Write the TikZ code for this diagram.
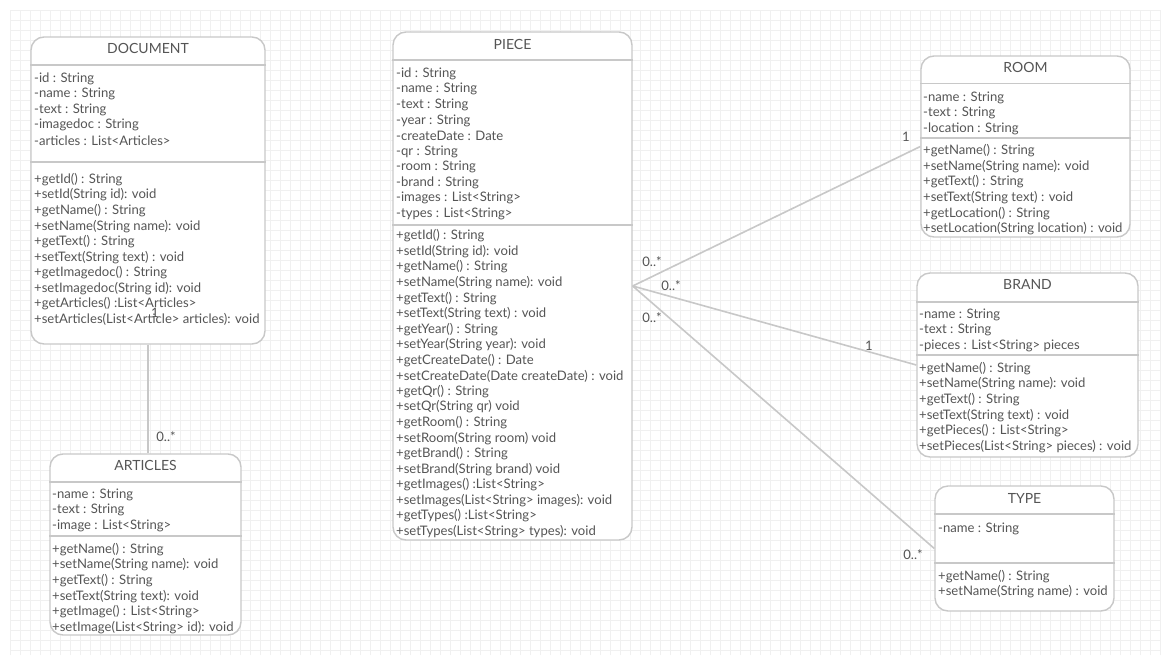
\documentclass[tikz,border=0pt]{standalone}
\usepackage{fontspec}
\setmainfont{Lato}
\definecolor{txt}{HTML}{555555}
\definecolor{edge}{HTML}{C8C8C8}
\definecolor{gridc}{HTML}{F0F0F0}

% A class box spanning (x1,y1)-(x2,y2), y measured downwards
\newcommand\umlbox[5]{%
  \node[classbox, minimum width={(#4-#2)*1pt}, minimum height={(#5-#3)*1pt}]
    (#1) at ({(#2+#4)/2},{(#3+#5)/2}) {};}
% A horizontal compartment divider inside a class box
\newcommand\divider[2]{\draw[divline] (#1.west |- 0,#2) -- (#1.east |- 0,#2);}
% A list of member lines: node prefix, left x, first line centre y, items
\newcommand\members[4]{%
  \foreach \t [count=\i] in {#4} {\node[member] (#1\i) at (#2,{#3+1.5+(\i-1)*15.55}) {\t};}}

\begin{document}
\begin{tikzpicture}[x=1pt,y=-1pt,
  classbox/.style={draw=edge, line width=1.4pt, fill=white, rounded corners=13pt, inner sep=0pt},
  divline/.style={draw=edge, line width=1.4pt},
  member/.style={anchor=west, inner sep=0pt, text=txt, font=\fontsize{13.1}{15}\selectfont},
  classtitle/.style={inner sep=0pt, text=txt, font=\fontsize{14}{16}\selectfont},
  assoc/.style={draw=edge, line width=1.6pt},
  mult/.style={inner sep=0pt, text=txt, font=\fontsize{13.1}{15}\selectfont}]

% page and background grid
\fill[white] (0,0) rectangle (1164,659);
\useasboundingbox (0,0) rectangle (1164,659);
\draw[gridc, line width=0.5pt, step=10pt] (10,10) grid (1160,655);

% ---------------- DOCUMENT ----------------
\umlbox{doc}{31}{37}{265}{344}
\divider{doc}{65}
\divider{doc}{162}
\node[classtitle] (doc-t) at (doc.north |- 0,48) {DOCUMENT};
\members{doc-a}{34}{77}{-id : String,-name : String,-text : String,-imagedoc : String,-articles : List<Articles>}
\members{doc-m}{34}{178}{+getId() : String,+setId(String id): void,+getName() : String,+setName(String name): void,+getText() : String,+setText(String text) : void,+getImagedoc() : String,+setImagedoc(String id): void,+getArticles() :List<Articles>,+setArticles(List<Article> articles): void}

% ---------------- ARTICLES ----------------
\umlbox{art}{50}{454}{241}{635}
\divider{art}{482}
\divider{art}{536}
\node[classtitle] (art-t) at (art.north |- 0,465) {ARTICLES};
\members{art-a}{52}{493}{-name : String,-text : String,-image : List<String>}
\members{art-m}{52}{548}{+getName() : String,+setName(String name): void,+getText() : String,+setText(String text): void,+getImage() : List<String>,+setImage(List<String> id): void}

% ---------------- PIECE ----------------
\umlbox{piece}{393}{32}{632}{540}
\divider{piece}{60}
\divider{piece}{225}
\node[classtitle] (piece-t) at (piece.north |- 0,44) {PIECE};
\members{piece-a}{396}{72.3}{-id : String,-name : String,-text : String,-year : String,-createDate : Date,-qr : String,-room : String,-brand : String,-images : List<String>,-types : List<String>}
\members{piece-m}{396}{234.5}{+getId() : String,+setId(String id): void,+getName() : String,+setName(String name): void,+getText() : String,+setText(String text) : void,+getYear() : String,+setYear(String year): void,+getCreateDate() : Date,+setCreateDate(Date createDate) : void,+getQr() : String,+setQr(String qr) void,+getRoom() : String,+setRoom(String room) void,+getBrand() : String,+setBrand(String brand) void,+getImages() :List<String>,+setImages(List<String> images): void,+getTypes() :List<String>,+setTypes(List<String> types): void}

% ---------------- ROOM ----------------
\umlbox{room}{921}{56}{1130}{237}
\divider{room}{83.5}
\divider{room}{138}
\node[classtitle] (room-t) at (room.north |- 0,67) {ROOM};
\members{room-a}{923}{96}{-name : String,-text : String,-location : String}
\members{room-m}{923}{149.5}{+getName() : String,+setName(String name): void,+getText() : String,+setText(String text) : void,+getLocation() : String,+setLocation(String location) : void}

% ---------------- BRAND ----------------
\umlbox{brand}{917}{273}{1138}{457}
\divider{brand}{302}
\divider{brand}{355}
\node[classtitle] (brand-t) at (brand.north |- 0,284) {BRAND};
\members{brand-a}{919}{313}{-name : String,-text : String,-pieces : List<String> pieces}
\members{brand-m}{919}{367}{+getName() : String,+setName(String name): void,+getText() : String,+setText(String text) : void,+getPieces() : List<String>,+setPieces(List<String> pieces) : void}

% ---------------- TYPE ----------------
\umlbox{type}{935}{486}{1114}{611}
\divider{type}{514}
\divider{type}{563}
\node[classtitle] (type-t) at (type.north |- 0,498) {TYPE};
\members{type-a}{938}{527}{-name : String}
\members{type-m}{938}{575}{+getName() : String,+setName(String name) : void}

% ---------------- associations ----------------
\draw[assoc] (doc.south) -- (doc.south |- art.north);
\draw[assoc] (piece.east) -- (room.west);
\draw[assoc] (piece.east) -- (brand.west);
\draw[assoc] (piece.east) -- (type.west);

% multiplicities
\node[mult] (m-doc) at (155,313) {1};
\node[mult] (m-art) at (166,437) {0..*};
\node[mult] (m-pr) at (652,262) {0..*};
\node[mult] (m-pb) at (671,286) {0..*};
\node[mult] (m-pt) at (652,318) {0..*};
\node[mult] (m-room) at (906,137) {1};
\node[mult] (m-brand) at (869,346) {1};
\node[mult] (m-type) at (913,555) {0..*};
\end{tikzpicture}
\end{document}
